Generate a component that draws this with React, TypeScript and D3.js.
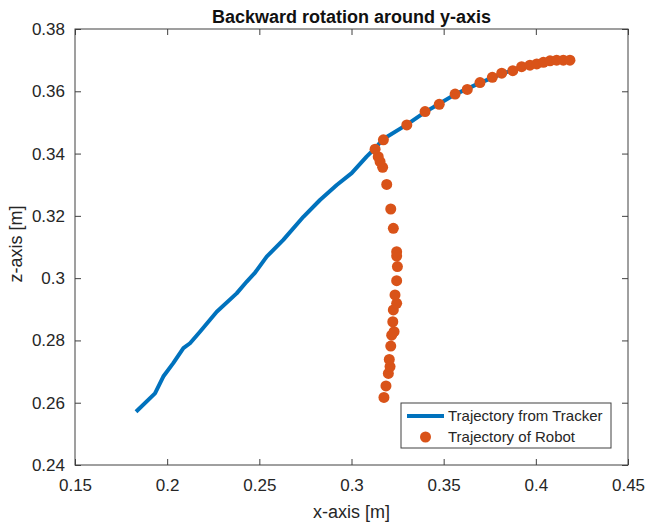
import { useEffect, useRef } from 'react';
import * as d3 from 'd3';

// tracker trajectory (x, z) in metres
const trackerX = [
  0.1831, 0.1934, 0.1979, 0.2033, 0.2088, 0.2124, 0.2178, 0.2269, 0.2377, 0.2432,
  0.2477, 0.2540, 0.2630, 0.2739, 0.2829, 0.2920, 0.3001, 0.3082, 0.3128, 0.3173,
  0.3300, 0.3399, 0.3476, 0.3562, 0.3697, 0.3815, 0.3923, 0.4041, 0.4185,
];
const trackerZ = [
  0.2571, 0.2630, 0.2684, 0.2727, 0.2775, 0.2791, 0.2828, 0.2892, 0.2951, 0.2989,
  0.3018, 0.3069, 0.3123, 0.3197, 0.3251, 0.3299, 0.3337, 0.3390, 0.3417, 0.3447,
  0.3493, 0.3533, 0.3560, 0.3590, 0.3627, 0.3656, 0.3678, 0.3692, 0.3700,
];

// robot trajectory (x, z) in metres
const robotX = [
  0.3176, 0.3187, 0.3200, 0.3209, 0.3205, 0.3213, 0.3218, 0.3231, 0.3224, 0.3227,
  0.3245, 0.3236, 0.3245, 0.3249, 0.3245, 0.3245, 0.3227, 0.3213, 0.3191, 0.3169,
  0.3155, 0.3145, 0.3128, 0.3173, 0.3300, 0.3399, 0.3476, 0.3562, 0.3628, 0.3697,
  0.3764, 0.3815, 0.3875, 0.3923, 0.3968, 0.4005, 0.4041, 0.4077, 0.4113, 0.4149,
  0.4185,
];
const robotZ = [
  0.2617, 0.2654, 0.2694, 0.2716, 0.2739, 0.2782, 0.2817, 0.2828, 0.2860, 0.2898,
  0.2919, 0.2946, 0.2992, 0.3037, 0.3071, 0.3085, 0.3160, 0.3222, 0.3301, 0.3356,
  0.3374, 0.3390, 0.3414, 0.3444, 0.3492, 0.3535, 0.3558, 0.3591, 0.3606, 0.3628,
  0.3645, 0.3658, 0.3666, 0.3679, 0.3684, 0.3688, 0.3693, 0.3698, 0.3700, 0.3700,
  0.3700,
];

const xTicks = [0.15, 0.2, 0.25, 0.3, 0.35, 0.4, 0.45];
const zTicks = [0.24, 0.26, 0.28, 0.3, 0.32, 0.34, 0.36, 0.38];

export default function App() {
  const svgRef = useRef<SVGSVGElement>(null);

  useEffect(() => {
    const svg = d3.select(svgRef.current);
    svg.selectAll('*').remove();

    const width = 646;
    const height = 523;
    const margin = { top: 29, right: 18, bottom: 58, left: 75 };
    const innerWidth = width - margin.left - margin.right;
    const innerHeight = height - margin.top - margin.bottom;
    const font = "'Liberation Sans', Arial, sans-serif";
    const axisColor = '#404040';
    const textColor = '#262626';

    const x = d3.scaleLinear().domain([0.15, 0.45]).range([0, innerWidth]);
    const y = d3.scaleLinear().domain([0.24, 0.38]).range([innerHeight, 0]);

    svg.attr('width', width).attr('height', height);
    svg.append('rect').attr('width', width).attr('height', height).attr('fill', 'white');

    const g = svg.append('g').attr('transform', `translate(${margin.left},${margin.top})`);

    const fmt = (d: number) => String(+d.toFixed(2));

    // axes with inward ticks, mirrored on top/right (box on)
    const styleAxis = (sel: any) => {
      sel.select('.domain').remove();
      sel.selectAll('line').attr('stroke', axisColor);
      sel.selectAll('text')
        .attr('fill', textColor)
        .style('font-family', font)
        .style('font-size', '17px');
    };

    g.append('g')
      .attr('transform', `translate(0,${innerHeight})`)
      .call(d3.axisBottom(x).tickValues(xTicks).tickFormat(fmt as any).tickSizeInner(-6).tickSizeOuter(0).tickPadding(14))
      .call(styleAxis);
    g.append('g')
      .call(d3.axisTop(x).tickValues(xTicks).tickSizeInner(-6).tickSizeOuter(0).tickFormat(() => ''))
      .call(styleAxis);
    g.append('g')
      .call(d3.axisLeft(y).tickValues(zTicks).tickFormat(fmt as any).tickSizeInner(-6).tickSizeOuter(0).tickPadding(10))
      .call(styleAxis);
    g.append('g')
      .attr('transform', `translate(${innerWidth},0)`)
      .call(d3.axisRight(y).tickValues(zTicks).tickSizeInner(-6).tickSizeOuter(0).tickFormat(() => ''))
      .call(styleAxis);

    g.append('rect')
      .attr('width', innerWidth)
      .attr('height', innerHeight)
      .attr('fill', 'none')
      .attr('stroke', axisColor)
      .attr('stroke-width', 1);

    const tracker = trackerX.map((v, i) => [v, trackerZ[i]] as [number, number]);
    const robot = robotX.map((v, i) => [v, robotZ[i]] as [number, number]);

    const line = d3.line<[number, number]>().x(d => x(d[0])).y(d => y(d[1]));

    g.append('path')
      .datum(tracker)
      .attr('d', line)
      .attr('fill', 'none')
      .attr('stroke', '#0072BD')
      .attr('stroke-width', 4)
      .attr('stroke-linejoin', 'round');

    g.selectAll('circle.robot')
      .data(robot)
      .join('circle')
      .attr('class', 'robot')
      .attr('cx', d => x(d[0]))
      .attr('cy', d => y(d[1]))
      .attr('r', 5.5)
      .attr('fill', '#D95319');

    // title and axis labels
    svg.append('text')
      .attr('x', margin.left + innerWidth / 2)
      .attr('y', 23)
      .attr('text-anchor', 'middle')
      .attr('fill', '#111')
      .style('font-family', font)
      .style('font-size', '18px')
      .style('font-weight', 'bold')
      .text('Backward rotation around y-axis');

    svg.append('text')
      .attr('x', margin.left + innerWidth / 2)
      .attr('y', 518)
      .attr('text-anchor', 'middle')
      .attr('fill', textColor)
      .style('font-family', font)
      .style('font-size', '18px')
      .text('x-axis [m]');

    svg.append('text')
      .attr('transform', `translate(22,${margin.top + innerHeight / 2 - 3}) rotate(-90)`)
      .attr('text-anchor', 'middle')
      .attr('fill', textColor)
      .style('font-family', font)
      .style('font-size', '18px')
      .text('z-axis [m]');

    // legend
    const legend = svg.append('g').attr('transform', 'translate(401,403)');
    legend.append('rect')
      .attr('width', 210)
      .attr('height', 45)
      .attr('fill', 'white')
      .attr('stroke', axisColor)
      .attr('stroke-width', 1);
    legend.append('line')
      .attr('x1', 6).attr('x2', 43)
      .attr('y1', 13).attr('y2', 13)
      .attr('stroke', '#0072BD')
      .attr('stroke-width', 4);
    legend.append('circle')
      .attr('cx', 24.5).attr('cy', 34)
      .attr('r', 5.5)
      .attr('fill', '#D95319');
    legend.selectAll('text.item')
      .data(['Trajectory from Tracker', 'Trajectory of Robot'])
      .join('text')
      .attr('class', 'item')
      .attr('x', 47)
      .attr('y', (d, i) => 13 + i * 21)
      .attr('dy', '0.35em')
      .attr('fill', textColor)
      .style('font-family', font)
      .style('font-size', '15px')
      .text(d => d);
  }, []);

  return (
    <svg ref={svgRef} style={{ position: 'absolute', left: 0, top: 0 }}></svg>
  );
}
